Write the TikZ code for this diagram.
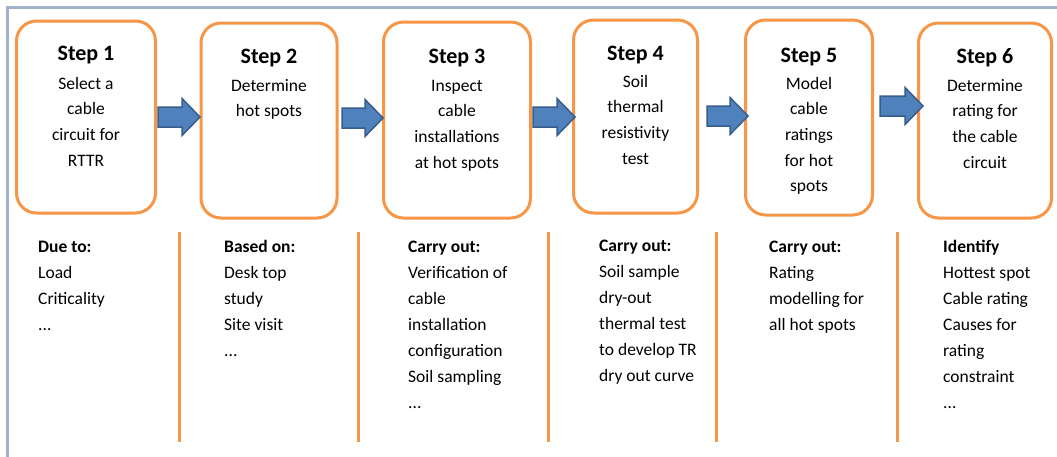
\documentclass[tikz,border=0pt]{standalone}
\usepackage{fontspec}
\setmainfont{Carlito}
\definecolor{org}{HTML}{F79646}
\definecolor{afill}{HTML}{4F81BD}
\definecolor{aline}{HTML}{385D8A}
\definecolor{framec}{HTML}{A3B1CD}
\newcommand\clines[1]{\begin{tabular}[t]{@{}c@{}}#1\end{tabular}}
\newcommand\llines[1]{\begin{tabular}[t]{@{}l@{}}#1\end{tabular}}
\newcommand\barrow[3]{%
  \fill[blockarrow] (#1,#2-10) -- (#3-18,#2-10) -- (#3-18,#2-18.5) -- (#3,#2)
    -- (#3-18,#2+18.5) -- (#3-18,#2+10) -- (#1,#2+10) -- cycle;}
\tikzset{
  stepbox/.style={draw=org, line width=3pt, rounded corners=20pt, fill=white, inner sep=0},
  divider/.style={draw=org, line width=3pt},
  blockarrow/.style={fill=afill, draw=aline, line width=1.5pt, line join=miter},
  steptitle/.style={font=\fontsize{22}{26}\bfseries\selectfont, anchor=base, inner sep=0},
  stepbody/.style={font=\fontsize{17.5}{25.7}\selectfont, anchor=base, inner sep=0},
  note/.style={font=\fontsize{17.5}{26}\selectfont, anchor=base west, inner sep=0},
}
\begin{document}
\begin{tikzpicture}[x=1pt,y=-1pt]
\clip (0,0) rectangle (1057,456);
\fill[white] (0,0) rectangle (1057,456);
\draw[framec, line width=2.2pt] (7.5,7.5) rectangle (1080,480);

% boxes
\node[stepbox, minimum width=139pt, minimum height=192pt] (b1) at (86,117) {};
\node[stepbox, minimum width=136pt, minimum height=195pt] (b2) at (269,120.5) {};
\node[stepbox, minimum width=147pt, minimum height=196pt] (b3) at (457,120) {};
\node[stepbox, minimum width=124pt, minimum height=193pt] (b4) at (635.5,116.5) {};
\node[stepbox, minimum width=127pt, minimum height=195pt] (b5) at (809,117.5) {};
\node[stepbox, minimum width=133pt, minimum height=195pt] (b6) at (985,120.5) {};

% titles
\node[steptitle] (t1) at (86,60) {Step 1};
\node[steptitle] (t2) at (269,63) {Step 2};
\node[steptitle] (t3) at (457,63) {Step 3};
\node[steptitle] (t4) at (635.5,60) {Step 4};
\node[steptitle] (t5) at (809,62) {Step 5};
\node[steptitle] (t6) at (985,63) {Step 6};

% box texts
\node[stepbody] (s1) at (86,89) {\clines{Select a\\cable\\circuit for\\RTTR}};
\node[stepbody] (s2) at (269,91) {\clines{Determine\\hot spots}};
\node[stepbody] (s3) at (457,91) {\clines{Inspect\\cable\\installations\\at hot spots}};
\node[stepbody] (s4) at (635.5,87) {\clines{Soil\\thermal\\resistivity\\test}};
\node[stepbody] (s5) at (809,89) {\clines{Model\\cable\\ratings\\for hot\\spots}};
\node[stepbody] (s6) at (985,91) {\clines{Determine\\rating for\\the cable\\circuit}};

% arrows
\barrow{158}{117}{200}
\barrow{342}{118}{383}
\barrow{533}{117}{575}
\barrow{707}{116}{748}
\barrow{880}{106}{923}

% dividers
\foreach \x [count=\i] in {179,358,548,716,897}{
  \coordinate (dtop\i) at (\x,232);
  \coordinate (dbot\i) at (\x,442);
  \draw[divider] (dtop\i) -- (dbot\i);
}

% notes
\node[note] (n1) at (38,252) {\llines{\textbf{Due to:}\\Load\\Criticality\\...}};
\node[note] (n2) at (224,252) {\llines{\textbf{Based on:}\\Desk top\\study\\Site visit\\...}};
\node[note] (n3) at (408,252) {\llines{\textbf{Carry out:}\\Verification of\\cable\\installation\\configuration\\Soil sampling\\...}};
\node[note] (n4) at (599,251) {\llines{\textbf{Carry out:}\\Soil sample\\dry-out\\thermal test\\to develop TR\\dry out curve}};
\node[note] (n5) at (769,252) {\llines{\textbf{Carry out:}\\Rating\\modelling for\\all hot spots}};
\node[note] (n6) at (943,252) {\llines{\textbf{Identify}\\Hottest spot\\Cable rating\\Causes for\\rating\\constraint\\...}};
\end{tikzpicture}
\end{document}
